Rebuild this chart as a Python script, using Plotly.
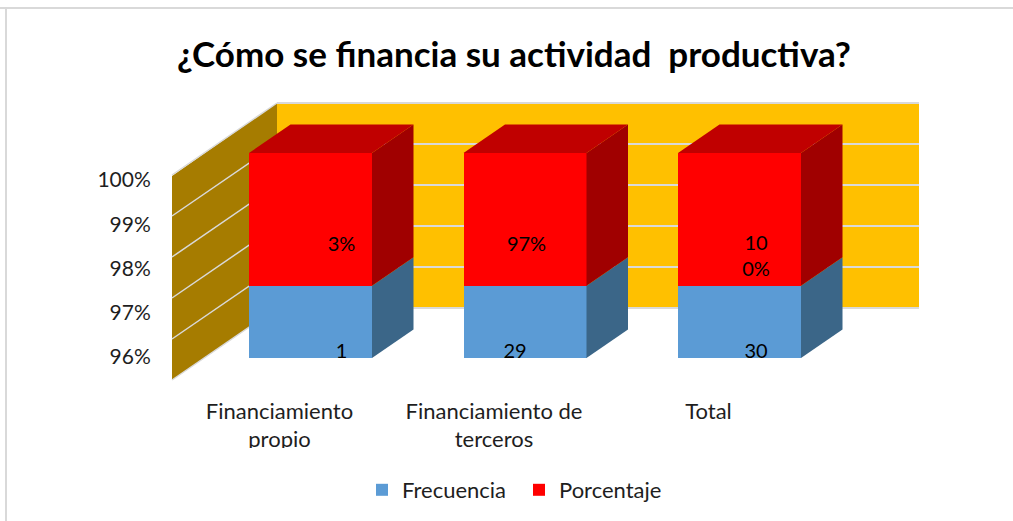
import plotly.graph_objects as go

# ---- data ----
categories_line1 = ["Financiamiento", "Financiamiento de", "Total"]
categories_line2 = ["propio", "terceros", ""]
frecuencia_labels = ["1", "29", "30"]
porcentaje_labels = ["3%", "97%", "10<br>0%"]
frecuencia_share = [96.76, 96.76, 96.76]   # stacked 100 % share
porcentaje_share = [3.24, 3.24, 3.24]
y_ticks = [95, 96, 97, 98, 99, 100]
y_tick_labels = ["95%", "96%", "97%", "98%", "99%", "100%"]

# ---- geometry ----
W, H = 1013, 521
AX_MIN, AX_MAX = 95, 100
PX_PER_CAT, PX_PER_PCT = 214.5, 41.0
X0_PX, Y0_PX = 310.5, 358.0          # first bar centre, axis minimum on bar plane
L, R, T, B = 170, 921, 100, 382      # plot-area in px
BAR_W = 123 / PX_PER_CAT
DX, DY = 41.5 / PX_PER_CAT, 28.5 / PX_PER_PCT   # bar depth
x_pos = [0, 1, 2]
RED, BLUE = "#FF0000", "#5B9BD5"
RED_TOP, RED_SIDE, BLUE_SIDE = "#C00000", "#A00000", "#3B6688"
GRID = "#D9D9D9"
FONT = "Lato"
TEXT = "#1E1E1E"


def xd(px):
    return (px - X0_PX) / PX_PER_CAT


def yd(px):
    return AX_MIN + (Y0_PX - px) / PX_PER_PCT


def poly(xs, ys, color, name=""):
    return go.Scatter(x=xs + xs[:1], y=ys + ys[:1], mode="lines", fill="toself", fillcolor=color,
                      line=dict(width=0), hoverinfo="skip", showlegend=False, name=name)


fig = go.Figure()

# 3-D side and top faces built from the stacked values
for i, xc in enumerate(x_pos):
    x1 = xc + BAR_W / 2
    x0 = xc - BAR_W / 2
    split = frecuencia_share[i]
    top = split + porcentaje_share[i]
    fig.add_trace(poly([x1, x1 + DX, x1 + DX, x1], [AX_MIN, AX_MIN + DY, split + DY, split], BLUE_SIDE))
    fig.add_trace(poly([x1, x1 + DX, x1 + DX, x1], [split, split + DY, top + DY, top], RED_SIDE))
    fig.add_trace(poly([x0, x1, x1 + DX, x0 + DX], [top, top, top + DY, top + DY], RED_TOP))

# front faces
fig.add_trace(go.Bar(x=x_pos, y=[v - AX_MIN for v in frecuencia_share], base=[AX_MIN] * 3, width=BAR_W,
                     marker=dict(color=BLUE, line=dict(width=0)), name="Frecuencia"))
fig.add_trace(go.Bar(x=x_pos, y=porcentaje_share, base=frecuencia_share, width=BAR_W,
                     marker=dict(color=RED, line=dict(width=0)), name="Porcentaje"))

# data labels
label_dx_low = [31, -10, 16.5]
label_dx_high = [31, 1.5, 16.5]
label_px_low = 353
label_px_high = [246, 246, 257.5]
label_font = dict(family=FONT, size=20, color="#000")
fig.add_trace(go.Scatter(x=[xc + d / PX_PER_CAT for xc, d in zip(x_pos, label_dx_low)],
                         y=[yd(label_px_low)] * 3, mode="text", text=frecuencia_labels,
                         textposition="middle center", textfont=label_font,
                         hoverinfo="skip", showlegend=False))
fig.add_trace(go.Scatter(x=[xc + d / PX_PER_CAT for xc, d in zip(x_pos, label_dx_high)],
                         y=[yd(p) for p in label_px_high], mode="text", text=porcentaje_labels,
                         textposition="middle center", textfont=label_font,
                         hoverinfo="skip", showlegend=False))

# helper trace so that the overlaid axes (second label line, value labels) are drawn
fig.add_trace(go.Scatter(x=[x_pos[0]], y=[y_ticks[0]], xaxis="x2", yaxis="y2", mode="markers",
                         marker=dict(opacity=0), hoverinfo="skip", showlegend=False))

# ---- walls ----
shapes = []
BACK_L, BACK_R = xd(277), xd(919)
BACK_B, BACK_T = yd(308), yd(103)
FRONT_L = xd(172)
FRONT_B, FRONT_T = yd(380), yd(176)


def path(pts):
    return "M" + " L".join(f"{a},{b}" for a, b in pts) + " Z"


shapes.append(dict(type="path", layer="below", xref="x", yref="y", line=dict(width=0), fillcolor="#FFC000",
                   path=path([(BACK_L, BACK_B), (BACK_R, BACK_B), (BACK_R, BACK_T), (BACK_L, BACK_T)])))
shapes.append(dict(type="path", layer="below", xref="x", yref="y", line=dict(width=0), fillcolor="#A67C00",
                   path=path([(FRONT_L, FRONT_B), (BACK_L, BACK_B), (BACK_L, BACK_T), (FRONT_L, FRONT_T)])))
for t in y_ticks:
    k = t - AX_MIN
    yb = BACK_B + k
    yf = FRONT_B + k
    shapes.append(dict(type="line", layer="below", xref="x", yref="y", x0=BACK_L, x1=BACK_R, y0=yb, y1=yb,
                       line=dict(color=GRID, width=2)))
    shapes.append(dict(type="line", layer="below", xref="x", yref="y", x0=FRONT_L, x1=BACK_L, y0=yf, y1=yb,
                       line=dict(color=GRID, width=1.5)))


def px_rect(x0, y0, x1, y1, fill="white", line=None, layer="above"):
    plot_w, plot_h = R - L, B - T
    return dict(type="rect", layer=layer, xref="paper", yref="paper",
                x0=(x0 - L) / plot_w, x1=(x1 - L) / plot_w,
                y0=(B - y0) / plot_h, y1=(B - y1) / plot_h,
                fillcolor=fill, line=line or dict(width=0))


# clipped labels, as in the source picture
shapes.append(px_rect(90, 396.5, 168, 412))
shapes.append(px_rect(190, 448, 560, 470))
# chart frame: only the top and left edges are inside the picture
shapes.append(px_rect(0, 7, W, 9, fill=GRID, layer="below"))
shapes.append(px_rect(5, 7, 7, 521, fill=GRID, layer="below"))

tick_font = dict(family=FONT, size=21, color=TEXT)
cat_font = dict(family=FONT, size=22, color=TEXT)
label_shift = -31 / PX_PER_CAT

fig.update_layout(
    width=W, height=H, margin=dict(l=L, r=W - R, t=T, b=H - B, autoexpand=False),
    paper_bgcolor="white", plot_bgcolor="rgba(0,0,0,0)",
    barmode="overlay", bargap=0, shapes=shapes,
    title=dict(text="¿Cómo se financia su actividad\u00a0 productiva?", x=514 / W, xanchor="center",
               y=1 - 55 / H, yanchor="middle", font=dict(family=FONT, size=35, color="#000", weight="bold")),
    xaxis=dict(range=[xd(L), xd(R)], tickmode="array", tickvals=[p + label_shift for p in x_pos],
               ticktext=categories_line1, tickfont=cat_font, showgrid=False, zeroline=False, showline=False,
               ticks="outside", ticklen=10, tickcolor="rgba(0,0,0,0)", tickangle=0, automargin=False),
    xaxis2=dict(range=[xd(L), xd(R)], overlaying="x", side="bottom", anchor="y", tickmode="array",
                tickvals=[p + label_shift for p in x_pos], ticktext=categories_line2, tickfont=cat_font,
                showgrid=False, zeroline=False, showline=False, ticks="outside", ticklen=38,
                tickcolor="rgba(0,0,0,0)", tickangle=0, automargin=False),
    yaxis=dict(range=[yd(B), yd(T)], visible=False, fixedrange=True),
    yaxis2=dict(range=[96 - (B - 357) / 44.25, 96 + (357 - T) / 44.25], overlaying="y", anchor="x", side="left",
                tickmode="array", tickvals=y_ticks, ticktext=y_tick_labels, tickfont=tick_font,
                showgrid=False, zeroline=False, showline=False, ticks="outside", ticklen=14,
                tickcolor="rgba(0,0,0,0)", automargin=False),
    legend=dict(orientation="h", x=(362 - L) / (R - L), xref="paper", xanchor="left",
                y=-(469 - B) / (B - T), yanchor="top",
                font=dict(family=FONT, size=22, color=TEXT), traceorder="normal", itemwidth=30,
                entrywidth=112, entrywidthmode="pixels", bgcolor="rgba(0,0,0,0)"),
    showlegend=True,
)

fig.write_html("out.html", config=dict(displayModeBar=False),
               post_script="document.body.style.margin='0';")
